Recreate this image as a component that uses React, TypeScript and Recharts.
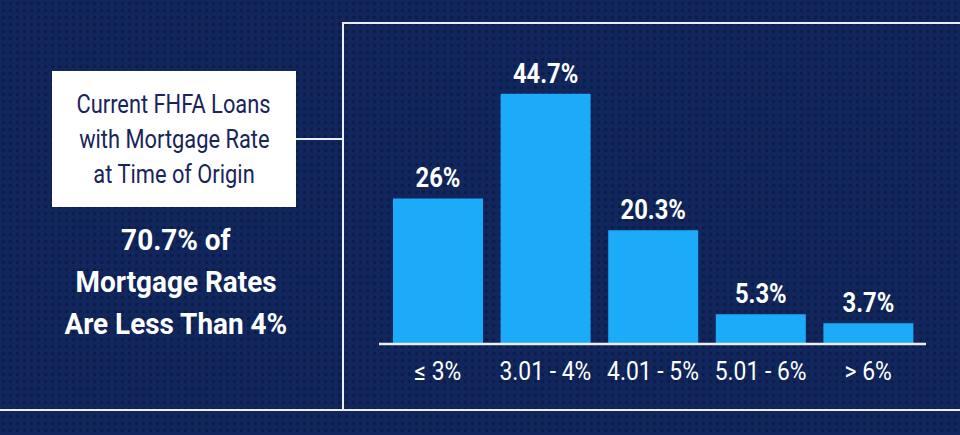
import React from "react";
import { Bar, BarChart, LabelList, XAxis, YAxis } from "recharts";

const categories = ["≤ 3%", "3.01 - 4%", "4.01 - 5%", "5.01 - 6%", "> 6%"];
const shares = [26, 44.7, 20.3, 5.3, 3.7];
const shareLabels = ["26%", "44.7%", "20.3%", "5.3%", "3.7%"];
const boxLines = ["Current FHFA Loans", "with Mortgage Rate", "at Time of Origin"];
const headlineLines = ["70.7% of", "Mortgage Rates", "Are Less Than 4%"];

const rows = categories.map((range, i) => ({ range, share: shares[i], label: shareLabels[i] }));

const navy = "#11265c";
const barBlue = "#1cabf8";
const lineWhite = "#e9eef8";
const font = "Roboto, 'Noto Sans', sans-serif";

function Tick(props: any) {
  const { x, y, payload } = props;
  return (
    <text
      transform={`translate(${x},${y + 28}) scale(0.88,1)`}
      textAnchor="middle"
      fill="#ffffff"
      fontFamily={font}
      fontSize={26}
    >
      {payload.value}
    </text>
  );
}

function ValueLabel(props: any) {
  const { x, y, width, index } = props;
  return (
    <text
      transform={`translate(${x + width / 2},${y - 11}) scale(0.85,1)`}
      textAnchor="middle"
      fill="#ffffff"
      fontFamily={font}
      fontWeight={700}
      fontSize={28}
    >
      {rows[index].label}
    </text>
  );
}

function Line({ left, top, width, height }: { left: number; top: number; width: number; height: number }) {
  return <div style={{ position: "absolute", left, top, width, height, background: lineWhite }} />;
}

export default function App() {
  return (
    <div
      style={{
        position: "relative",
        width: 960,
        height: 435,
        overflow: "hidden",
        backgroundColor: navy,
        backgroundImage: "radial-gradient(circle, rgba(5,15,45,0.4) 1.5px, transparent 2.2px)",
        backgroundSize: "7px 7px",
        fontFamily: font,
      }}
    >
      <style>{"body{margin:0}"}</style>

      <Line left={0} top={409} width={960} height={2} />
      <Line left={342} top={22} width={2} height={388} />
      <Line left={342} top={22} width={618} height={2} />
      <Line left={296} top={138} width={47} height={2} />

      <div
        style={{
          position: "absolute",
          left: 52,
          top: 71,
          width: 244,
          height: 136,
          background: "#ffffff",
          display: "flex",
          flexDirection: "column",
          justifyContent: "center",
          alignItems: "center",
        }}
      >
        {boxLines.map((t) => (
          <div
            key={t}
            style={{
              fontSize: 26,
              lineHeight: "35px",
              color: "#18245a",
              transform: "scaleX(0.84)",
              whiteSpace: "nowrap",
            }}
          >
            {t}
          </div>
        ))}
      </div>

      <div
        style={{
          position: "absolute",
          left: 26,
          top: 219,
          width: 300,
          display: "flex",
          flexDirection: "column",
          alignItems: "center",
        }}
      >
        {headlineLines.map((t) => (
          <div
            key={t}
            style={{
              fontSize: 30,
              fontWeight: 700,
              lineHeight: "42px",
              color: "#ffffff",
              transform: "scaleX(0.93)",
              whiteSpace: "nowrap",
            }}
          >
            {t}
          </div>
        ))}
      </div>

      <div style={{ position: "absolute", left: 0, top: 0 }}>
        <BarChart width={960} height={435} data={rows} margin={{ top: 64, right: 34, bottom: 51, left: 379 }}>
          <XAxis
            dataKey="range"
            height={40}
            padding={{ left: 5, right: 4 }}
            axisLine={{ stroke: lineWhite, strokeWidth: 2.5 }}
            tickLine={false}
            interval={0}
            tick={<Tick />}
          />
          <YAxis hide domain={[0, 50]} />
          <Bar dataKey="share" fill={barBlue} barSize={90} isAnimationActive={false}>
            <LabelList dataKey="label" content={<ValueLabel />} />
          </Bar>
        </BarChart>
      </div>
    </div>
  );
}
